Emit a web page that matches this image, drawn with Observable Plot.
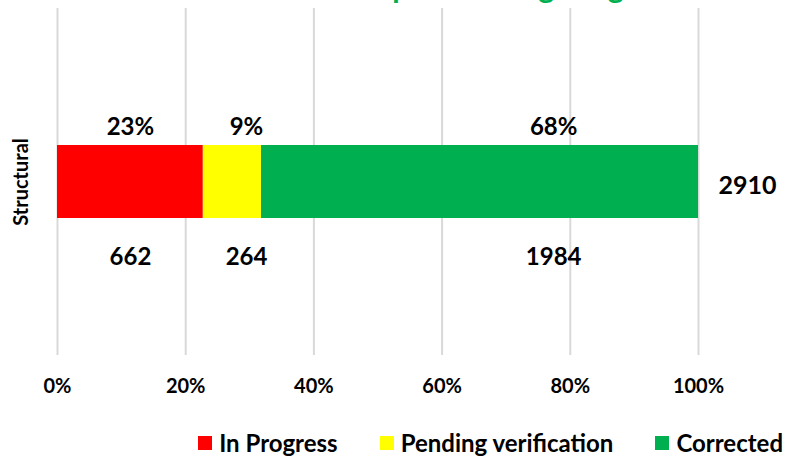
<!DOCTYPE html>
<html>
<head>
<meta charset="utf-8">
<script src="https://cdn.jsdelivr.net/npm/d3@7"></script>
<script src="https://cdn.jsdelivr.net/npm/@observablehq/plot@0.6"></script>
<style>
  html, body { margin: 0; padding: 0; background: #fff; overflow: hidden; }
  body { width: 785px; height: 461px; position: relative; font-family: Lato, "Open Sans", sans-serif; color: #000; }
  #title { position: absolute; left: 0; width: 785px; top: -32px; text-align: center; color: #00b050; font-weight: bold; font-size: 30px; line-height: 36px; white-space: nowrap; }
  #chart { position: absolute; left: 0; top: 0; }
  #legend { position: absolute; right: 2px; top: 428px; display: flex; gap: 42px; font-weight: bold; font-size: 24px; line-height: 30px; white-space: nowrap; }
  #legend .item { display: flex; align-items: center; gap: 7px; }
  #legend .sw { width: 14px; height: 14px; display: inline-block; }
</style>
</head>
<body>
<div id="title">Structural Defects Report Closing Progress</div>
<div id="chart"></div>
<div id="legend"></div>
<script>
const categories = ["Structural"];
const statuses = ["In Progress", "Pending verification", "Corrected"];
const counts = [662, 264, 1984];
const colors = ["#ff0000", "#ffff00", "#00b050"];
const xTicks = [0, 0.2, 0.4, 0.6, 0.8, 1];

// layout-only label shifts (fraction of axis) to match the reference label placement
const labelShift = [0, 0.022, 0.115];

const total = d3.sum(counts);
let acc = 0;
const rows = statuses.map((s, i) => {
  const start = acc / total;
  acc += counts[i];
  const end = acc / total;
  return { category: categories[0], status: s, value: counts[i], share: counts[i] / total, start, end, labelX: (start + end) / 2 + labelShift[i] };
});
const totals = categories.map(c => ({ category: c, total }));

const chart = Plot.plot({
  width: 785,
  height: 420,
  marginLeft: 57,
  marginRight: 87,
  marginTop: 8,
  marginBottom: 65,
  style: { fontFamily: "Lato, 'Open Sans', sans-serif", fontWeight: "bold", color: "#000", background: "transparent" },
  x: { domain: [0, 1] },
  y: { domain: categories, padding: 0.652, axis: null },
  color: { domain: statuses, range: colors },
  marks: [
    Plot.gridX({ ticks: xTicks, stroke: "#d9d9d9", strokeOpacity: 1, strokeWidth: 2 }),
    Plot.axisX({ ticks: xTicks, tickFormat: d3.format(".0%"), tickSize: 0, tickPadding: 23, fontSize: 20, fontWeight: "bold" }),
    Plot.barX(rows, { x1: "start", x2: "end", y: "category", fill: "status" }),
    Plot.text(rows, { x: "labelX", y: "category", text: d => Math.round(d.share * 100) + "%", dy: -55, fontSize: 24, fontWeight: "bold", fill: "#000" }),
    Plot.text(rows, { x: "labelX", y: "category", text: d => String(d.value), dy: 75, fontSize: 24, fontWeight: "bold", fill: "#000" }),
    Plot.text(totals, { x: 1, y: "category", text: d => String(d.total), dx: 20, dy: 4, textAnchor: "start", fontSize: 25, fontWeight: "bold", fill: "#000" }),
    Plot.text(categories, { y: d => d, frameAnchor: "left", textAnchor: "middle", dx: -36, rotate: -90, fontSize: 20, fontWeight: "bold", fill: "#000" })
  ]
});
document.getElementById("chart").appendChild(chart);

const legend = document.getElementById("legend");
statuses.forEach((s, i) => {
  const item = document.createElement("div");
  item.className = "item";
  const sw = document.createElement("span");
  sw.className = "sw";
  sw.style.background = colors[i];
  const label = document.createElement("span");
  label.textContent = s;
  item.appendChild(sw);
  item.appendChild(label);
  legend.appendChild(item);
});
</script>
</body>
</html>
